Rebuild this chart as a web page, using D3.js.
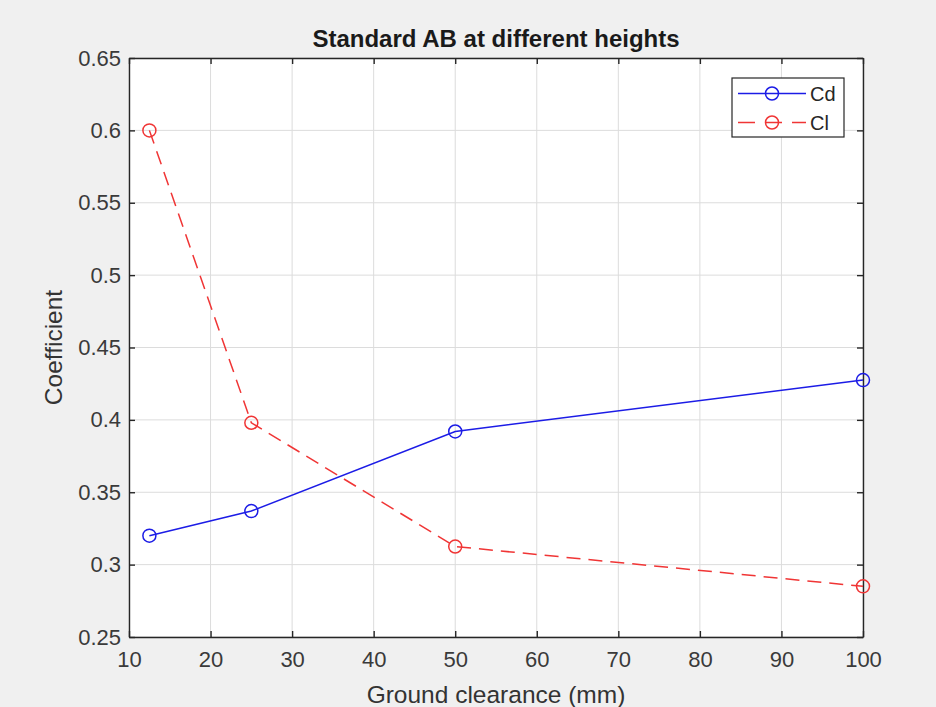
<!DOCTYPE html>
<html><head><meta charset="utf-8">
<script src="https://cdn.jsdelivr.net/npm/d3@7"></script>
<style>body{margin:0;background:#f0f0f0;}svg{display:block;font-family:"Liberation Sans",Arial,sans-serif;}</style>
</head><body><svg id="c" width="936" height="707"></svg>
<script>
const xValues = [12.5, 25, 50, 100];
const cdValues = [0.320, 0.337, 0.392, 0.4275];
const clValues = [0.600, 0.398, 0.3125, 0.285];
const xTicks = [10,20,30,40,50,60,70,80,90,100];
const yTicks = [0.25,0.3,0.35,0.4,0.45,0.5,0.55,0.6,0.65];
const seriesNames = ["Cd","Cl"];

const svg = d3.select("#c");
const L=129, R=863, T=58, B=637;
const x = d3.scaleLinear().domain([10,100]).range([L,R]);
const y = d3.scaleLinear().domain([0.25,0.65]).range([B,T]);

svg.append("rect").attr("x",L).attr("y",T).attr("width",R-L).attr("height",B-T).attr("fill","#fff");
// grid
svg.append("g").selectAll("line").data(xTicks).join("line")
 .attr("x1",d=>x(d)).attr("x2",d=>x(d)).attr("y1",T).attr("y2",B).attr("stroke","#dcdcdc").attr("stroke-width",1);
svg.append("g").selectAll("line").data(yTicks).join("line")
 .attr("y1",d=>y(d)).attr("y2",d=>y(d)).attr("x1",L).attr("x2",R).attr("stroke","#dcdcdc").attr("stroke-width",1);

const fmt = d=>String(+d.toFixed(2));
const xa = svg.append("g").attr("transform",`translate(0,${B})`).call(d3.axisBottom(x).tickValues(xTicks).tickSizeInner(-6).tickSizeOuter(0).tickPadding(14).tickFormat(fmt));
const ya = svg.append("g").attr("transform",`translate(${L},0)`).call(d3.axisLeft(y).tickValues(yTicks).tickSizeInner(-6).tickSizeOuter(0).tickPadding(8).tickFormat(fmt));
const xt = svg.append("g").attr("transform",`translate(0,${T})`).call(d3.axisTop(x).tickValues(xTicks).tickSizeInner(-6).tickSizeOuter(0).tickFormat(""));
const yr = svg.append("g").attr("transform",`translate(${R},0)`).call(d3.axisRight(y).tickValues(yTicks).tickSizeInner(-6).tickSizeOuter(0).tickFormat(""));
[xa,ya,xt,yr].forEach(g=>{g.select(".domain").attr("stroke","#262626").attr("stroke-width",1.4);
 g.selectAll(".tick line").attr("stroke","#262626").attr("stroke-width",1.4);
 g.selectAll("text").attr("fill","#3a3a3a").attr("font-size",22).attr("font-family","Liberation Sans, Arial, sans-serif");});

const line = d3.line().x((d,i)=>x(xValues[i])).y(d=>y(d));
const blue="#1c1ce6", red="#f03535";
svg.append("path").datum(cdValues).attr("d",line).attr("fill","none").attr("stroke",blue).attr("stroke-width",1.5);
svg.append("path").datum(clValues).attr("d",line).attr("fill","none").attr("stroke",red).attr("stroke-width",1.5).attr("stroke-dasharray","14,8");
svg.append("g").selectAll("circle").data(cdValues).join("circle").attr("cx",(d,i)=>x(xValues[i])).attr("cy",d=>y(d)).attr("r",6.5).attr("fill","none").attr("stroke",blue).attr("stroke-width",1.5);
svg.append("g").selectAll("circle").data(clValues).join("circle").attr("cx",(d,i)=>x(xValues[i])).attr("cy",d=>y(d)).attr("r",6.5).attr("fill","none").attr("stroke",red).attr("stroke-width",1.5);

// title & labels
svg.append("text").attr("x",(L+R)/2).attr("y",47).attr("text-anchor","middle").attr("font-weight","bold").attr("font-size",24).attr("fill","#1a1a1a").text("Standard AB at different heights");
svg.append("text").attr("x",(L+R)/2).attr("y",703).attr("text-anchor","middle").attr("font-size",24.5).attr("fill","#333").text("Ground clearance (mm)");
svg.append("text").attr("transform",`translate(62,${(T+B)/2}) rotate(-90)`).attr("text-anchor","middle").attr("font-size",24.5).attr("fill","#333").text("Coefficient");

// legend
const lg = svg.append("g");
lg.append("rect").attr("x",732).attr("y",78).attr("width",112).attr("height",59).attr("fill","#fff").attr("stroke","#262626").attr("stroke-width",1.2);
const colors=[blue,red], dashes=[null,"17,10"];
seriesNames.forEach((n,i)=>{
 const yy=93.5+i*29;
 lg.append("line").attr("x1",738).attr("x2",806).attr("y1",yy).attr("y2",yy).attr("stroke",colors[i]).attr("stroke-width",1.5).attr("stroke-dasharray",dashes[i]);
 lg.append("circle").attr("cx",772).attr("cy",yy).attr("r",6.5).attr("fill","none").attr("stroke",colors[i]).attr("stroke-width",1.5);
 lg.append("text").attr("x",810).attr("y",yy+7.5).attr("font-size",20).attr("fill","#262626").text(n);
});
</script></body></html>
